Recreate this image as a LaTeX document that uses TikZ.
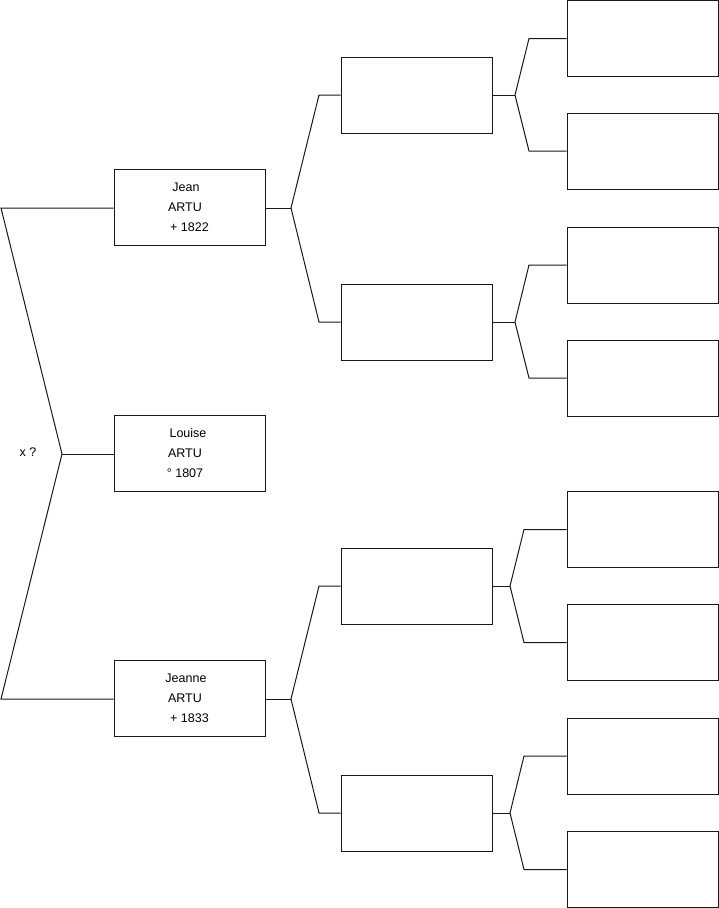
\documentclass[tikz,border=0pt]{standalone}
\usepackage{fontspec}
\setmainfont{Liberation Sans}
\begin{document}
\begin{tikzpicture}[x=1pt,y=-1pt,
  box/.style={draw=black!90, line width=1pt, minimum width=151pt, minimum height=76pt,
    inner sep=0pt, align=center, font=\fontsize{12.5}{20}\selectfont},
  link/.style={draw=black!90, line width=1pt},
  lbl/.style={font=\fontsize{12.5}{15}\selectfont, inner sep=0pt}]
\useasboundingbox (0,0) rectangle (719,908);
% level 1
\node[box] (jean)   at (189.5,207) {Jean\kern7pt\\ARTU\kern9pt\\+ 1822};
\node[box] (louise) at (189.5,453) {Louise\kern3pt\\ARTU\kern9pt\\° 1807\kern9pt};
\node[box] (jeanne) at (189.5,698) {Jeanne\kern7pt\\ARTU\kern9pt\\+ 1833};
% level 2
\node[box] (b1) at (416.5,95) {};
\node[box] (b2) at (416.5,322) {};
\node[box] (b3) at (416.5,586) {};
\node[box] (b4) at (416.5,813) {};
% level 3
\node[box] (c1) at (642.5,38.5) {};
\node[box] (c2) at (642.5,151) {};
\node[box] (c3) at (642.5,265) {};
\node[box] (c4) at (642.5,378) {};
\node[box] (c5) at (642.5,529.5) {};
\node[box] (c6) at (642.5,642.5) {};
\node[box] (c7) at (642.5,756) {};
\node[box] (c8) at (642.5,869.5) {};
% label
\node[lbl] (x) at (28,452) {x ?};
% left fork
\coordinate (tl) at (1,208);
\coordinate (bl) at (1,699);
\coordinate (r) at (62,454);
\draw[link] (jean.west |- tl) -- (tl) -- (r) -- (bl) -- (jeanne.west |- bl);
\draw[link] (r) -- (louise.west |- r);
% level 1 -> level 2 forks
\coordinate (fj) at (291,208);
\coordinate (fje) at (291,699);
\draw[link] (jean.east |- fj) -- (fj);
\draw[link] (b1.west) -- (319,95) -- (fj) -- (319,322) -- (b2.west);
\draw[link] (jeanne.east |- fje) -- (fje);
\draw[link] (b3.west) -- (319,586) -- (fje) -- (319,813) -- (b4.west);
% level 2 -> level 3 forks
\coordinate (f1) at (515,95);
\coordinate (f2) at (515,322);
\coordinate (f3) at (510,586);
\coordinate (f4) at (510,813);
\draw[link] (b1.east) -- (f1);
\draw[link] (c1.west) -- (529,38.5) -- (f1) -- (529,151) -- (c2.west);
\draw[link] (b2.east) -- (f2);
\draw[link] (c3.west) -- (529,265) -- (f2) -- (529,378) -- (c4.west);
\draw[link] (b3.east) -- (f3);
\draw[link] (c5.west) -- (524,529.5) -- (f3) -- (524,642.5) -- (c6.west);
\draw[link] (b4.east) -- (f4);
\draw[link] (c7.west) -- (524,756) -- (f4) -- (524,869.5) -- (c8.west);
\end{tikzpicture}
\end{document}
